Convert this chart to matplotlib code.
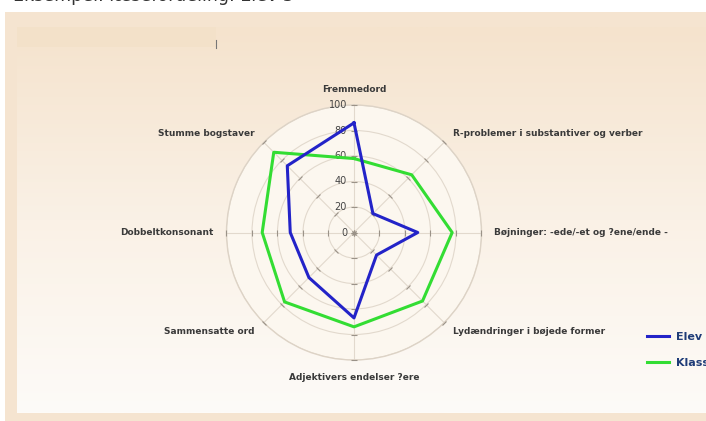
import numpy as np
import matplotlib
matplotlib.use("Agg")
import matplotlib.pyplot as plt
from matplotlib.patches import Rectangle
from matplotlib.markers import MarkerStyle
from matplotlib.transforms import Affine2D

# ── Data ──────────────────────────────────────────────────────────────────────
categories = [
    "Fremmedord",
    "R-problemer i substantiver og verber",
    "Bøjninger: -ede/-et og ?ene/ende -",
    "Lydændringer i bøjede former",
    "Adjektivers endelser ?ere",
    "Sammensatte ord",
    "Dobbeltkonsonant",
    "Stumme bogstaver",
]
elev = [86, 21, 50, 25, 67, 50, 50, 74]
klasse = [58, 64, 77, 76, 74, 77, 72, 89]
r_ticks = [0, 20, 40, 60, 80, 100]
series_names = ["Elev", "Klasse"]
top_caption = "Eksempel: læsefordeling: Elev 3"

W, H = 706, 421
fig = plt.figure(figsize=(W / 100, H / 100), dpi=100)
fig.patch.set_facecolor("white")

# ── Background (screenshot frame + gradient panel) ───────────────────────────
bg = fig.add_axes([0, 0, 1, 1], zorder=0)
bg.set_xlim(0, W)
bg.set_ylim(H, 0)
bg.axis("off")
bg.add_patch(Rectangle((5, 12), W - 5, H - 12, color="#f5e4d0", lw=0))
top_c = np.array([245, 227, 205]) / 255
mid_c = np.array([250, 241, 230]) / 255
bot_c = np.array([253, 251, 248]) / 255
t = np.linspace(0, 1, 200)[:, None]
grad = np.where(t < 0.5, top_c + (mid_c - top_c) * (t / 0.5),
                mid_c + (bot_c - mid_c) * ((t - 0.5) / 0.5))
bg.imshow(grad[:, None, :], extent=(17, W, 413, 27), aspect="auto", zorder=1)
bg.add_patch(Rectangle((17, 27), 199, 20, color="#f3e1c9", lw=0, zorder=2))
bg.plot([216, 216], [40, 48], color="#777777", lw=0.8, zorder=3)
# caption only partly visible at the top edge, as in the screenshot
bg.text(13, -4, top_caption, fontsize=12.5, color="#333333", va="center",
        ha="left", zorder=3)

# ── Radar chart ───────────────────────────────────────────────────────────────
cx, cy, rad = 354, 232.5, 127.5
ax = fig.add_axes([(cx - rad) / W, (H - cy - rad) / H, 2 * rad / W, 2 * rad / H],
                  projection="polar", zorder=2)
ax.set_theta_offset(np.pi / 2)
ax.set_theta_direction(-1)
ax.set_ylim(0, 100)
ax.set_facecolor("#fcf7ef")
ax.spines["polar"].set_color("#ddd3c6")
ax.spines["polar"].set_linewidth(1.0)

n = len(categories)
angles = np.linspace(0, 2 * np.pi, n, endpoint=False)
ax.set_xticks(angles)
ax.set_xticklabels([])
ax.set_yticks(r_ticks[1:])
ax.set_yticklabels([])
ax.grid(True, color="#e2d9cd", lw=0.8)

# perpendicular tick marks on each spoke
for a in angles:
    m = MarkerStyle("_", transform=Affine2D().rotate_deg(-np.degrees(a)))
    ax.plot([a] * len(r_ticks), r_ticks, ls="none", marker=m, ms=5,
            mew=0.8, color="#9a9288", zorder=3, clip_on=False)

# radial labels on the top spoke
for v in r_ticks:
    ax.annotate(str(v), xy=(0, v), xytext=(-5, 0), textcoords="offset points",
                ha="right", va="center", fontsize=7, color="#444444")

ang_c = np.concatenate([angles, angles[:1]])
l1, = ax.plot(ang_c, elev + elev[:1], color="#2323c8", lw=2.2, zorder=5,
              label=series_names[0])
l2, = ax.plot(ang_c, klasse + klasse[:1], color="#33dd33", lw=2.2, zorder=4,
              label=series_names[1])

# category labels
for a, lab in zip(angles, categories):
    s = np.sin(a)
    if abs(s) < 0.01:
        ha = "center"
    elif s > 0:
        ha = "left"
    else:
        ha = "right"
    r_lab = 110
    if np.cos(a) > 0.99:
        r_lab = 112
    elif np.cos(a) < -0.99:
        r_lab = 114
    ax.text(a, r_lab, lab, ha=ha, va="center", fontsize=6.5,
            fontweight="bold", color="#3a3a3a", clip_on=False)

# ── Legend ────────────────────────────────────────────────────────────────────
leg = fig.legend(handles=[l1, l2], loc="upper left",
                 bbox_to_anchor=(647 / W, 1 - 332 / H), frameon=False,
                 borderpad=0, borderaxespad=0, handlelength=2.0,
                 handletextpad=0.6, labelspacing=1.4,
                 prop={"size": 8, "weight": "bold"})
for txt in leg.get_texts():
    txt.set_color("#1f3c78")

fig.savefig("out.png", dpi=100)
